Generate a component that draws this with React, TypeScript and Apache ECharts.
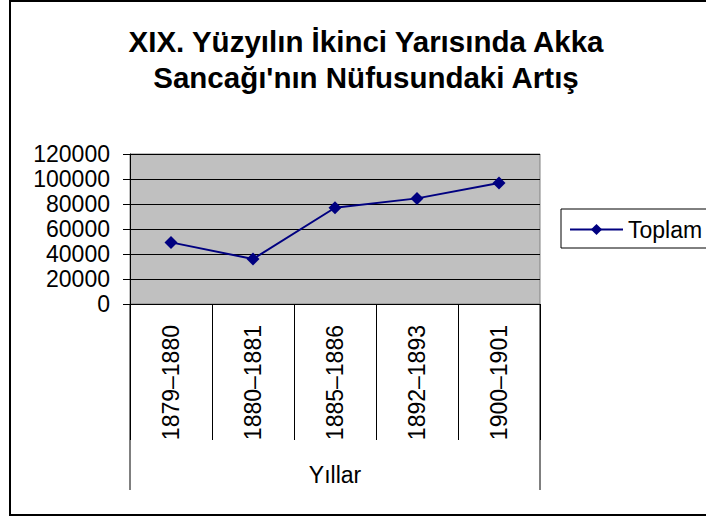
import React, { useEffect, useRef } from "react";
import * as echarts from "echarts";

const titleLines = ["XIX. Yüzyılın İkinci Yarısında Akka", "Sancağı'nın Nüfusundaki Artış"];
const categories = ["1879–1880", "1880–1881", "1885–1886", "1892–1893", "1900–1901"];
const seriesName = "Toplam";
const toplam = [49300, 36000, 77000, 84500, 96800];
const yMin = 0;
const yMax = 120000;
const yStep = 20000;
const xAxisName = "Yıllar";

const FONT = "'Liberation Sans', Arial, Helvetica, sans-serif";

export default function App() {
  const ref = useRef<HTMLDivElement>(null);
  useEffect(() => {
    if (!ref.current) return;
    const chart = echarts.init(ref.current, undefined, { renderer: "svg" });
    const gridLeft = 130, gridTop = 154, gridW = 410, gridH = 150;
    chart.setOption({
      animation: false,
      backgroundColor: "#ffffff",
      title: {
        text: titleLines.join("\n"),
        left: 366,
        top: 23,
        padding: 0,
        textAlign: "center",
        textStyle: { fontFamily: FONT, fontWeight: "bold", fontSize: 29.5, lineHeight: 36, color: "#000" },
      },
      legend: {
        data: [seriesName],
        left: 569,
        top: 218,
        padding: 0,
        itemWidth: 53,
        itemHeight: 14,
        textStyle: { fontFamily: FONT, fontSize: 23, color: "#000" },
      },
      grid: {
        left: gridLeft,
        top: gridTop,
        width: gridW,
        height: gridH,
        show: true,
        backgroundColor: "#c0c0c0",
        borderColor: "#808080",
        borderWidth: 1,
      },
      xAxis: {
        type: "category",
        data: categories,
        boundaryGap: true,
        axisLine: { show: true, lineStyle: { color: "#000", width: 1 } },
        axisTick: { show: true, length: 136, interval: 0, lineStyle: { color: "#000", width: 1 } },
        axisLabel: { rotate: 90, margin: 21, interval: 0, fontFamily: FONT, fontSize: 23, color: "#000" },
        name: xAxisName,
        nameLocation: "middle",
        nameGap: 159,
        nameTextStyle: { fontFamily: FONT, fontSize: 23, color: "#000" },
        splitLine: { show: false },
      },
      yAxis: {
        type: "value",
        min: yMin,
        max: yMax,
        interval: yStep,
        axisLine: { show: true, lineStyle: { color: "#000", width: 1 } },
        axisTick: { show: true, length: 7, lineStyle: { color: "#000" } },
        axisLabel: {
          margin: 20,
          fontFamily: FONT,
          fontSize: 23,
          color: "#000",
          formatter: (v: number) => String(v),
        },
        splitLine: { show: true, lineStyle: { color: "#000", width: 1 } },
      },
      series: [
        {
          name: seriesName,
          type: "line",
          data: toplam,
          symbol: "diamond",
          symbolSize: 13,
          lineStyle: { color: "#000080", width: 2 },
          itemStyle: { color: "#000080" },
        },
      ],
      graphic: [
        {
          type: "rect",
          silent: true,
          shape: { x: 10, y: 1, width: 740, height: 514 },
          style: { fill: "none", stroke: "#000", lineWidth: 2 },
        },
        {
          type: "rect",
          silent: true,
          shape: { x: 561, y: 209, width: 200, height: 39 },
          style: { fill: "none", stroke: "#000", lineWidth: 1 },
        },
        {
          type: "line",
          silent: true,
          shape: { x1: gridLeft, y1: gridTop + gridH, x2: gridLeft, y2: 490 },
          style: { stroke: "#000", lineWidth: 1 },
        },
        {
          type: "line",
          silent: true,
          shape: { x1: gridLeft + gridW, y1: gridTop + gridH, x2: gridLeft + gridW, y2: 490 },
          style: { stroke: "#000", lineWidth: 1 },
        },
      ],
    });
    return () => chart.dispose();
  }, []);
  return (
    <div
      ref={ref}
      style={{ position: "absolute", left: 0, top: 0, width: 706, height: 517 }}
    />
  );
}
